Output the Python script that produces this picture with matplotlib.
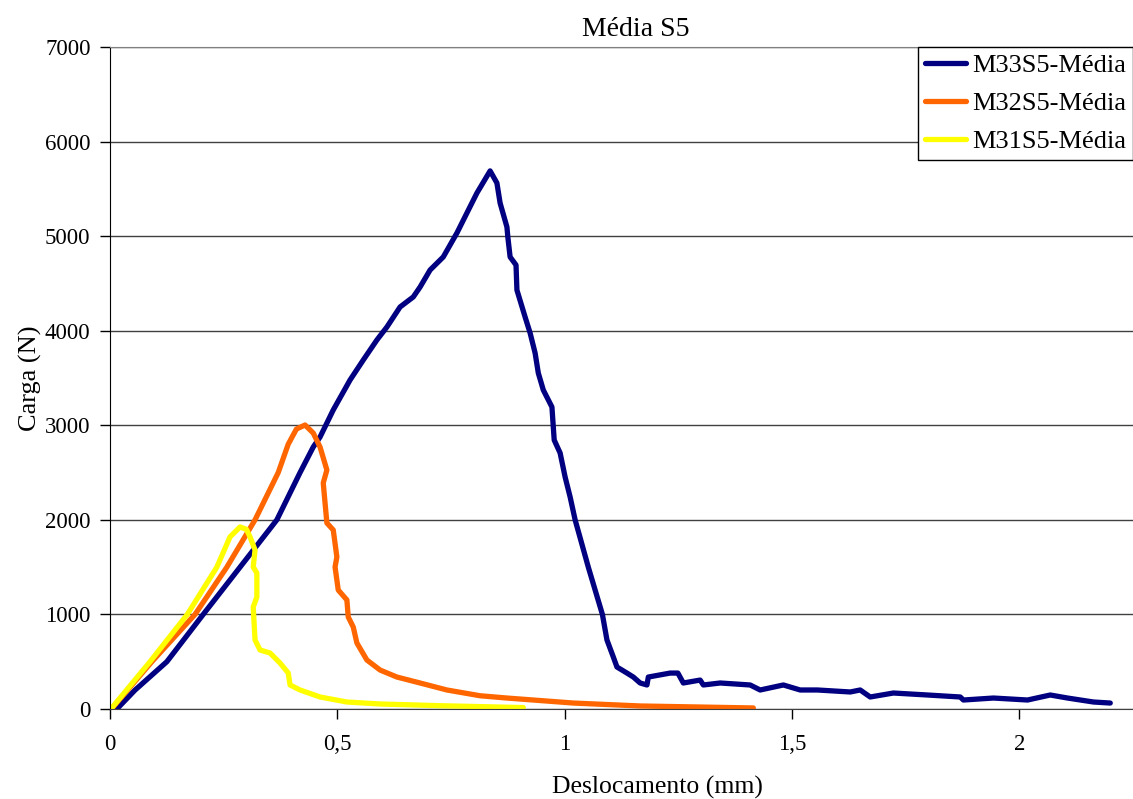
import matplotlib
matplotlib.use('Agg')
import matplotlib.pyplot as plt

# M33S5 - média
m33_x = [0.015, 0.055, 0.125, 0.205, 0.286, 0.367, 0.418, 0.447, 0.462, 0.491, 0.528, 0.557,
         0.587, 0.609, 0.638, 0.667, 0.682, 0.704, 0.733, 0.763, 0.785, 0.807, 0.836, 0.851,
         0.858, 0.873, 0.875, 0.880, 0.893, 0.895, 0.913, 0.924, 0.935, 0.942, 0.953, 0.972,
         0.975, 0.977, 0.990, 1.001, 1.012, 1.023, 1.052, 1.083, 1.093, 1.107, 1.115, 1.137,
         1.151, 1.166, 1.181, 1.184, 1.232, 1.249, 1.261, 1.298, 1.305, 1.342, 1.408, 1.430,
         1.481, 1.518, 1.556, 1.628, 1.650, 1.672, 1.723, 1.798, 1.870, 1.877, 1.943, 2.018,
         2.068, 2.106, 2.163, 2.200]
m33_y = [0, 200, 500, 1000, 1500, 2000, 2500, 2770, 2876, 3162, 3479, 3690,
         3902, 4039, 4251, 4357, 4462, 4642, 4780, 5033, 5245, 5456, 5690, 5562,
         5350, 5097, 4991, 4780, 4695, 4430, 4145, 3976, 3764, 3553, 3373, 3193,
         2982, 2844, 2707, 2453, 2242, 2000, 1500, 1000, 730, 550, 444, 380,
         338, 275, 254, 338, 380, 380, 275, 306, 254, 275, 254, 201,
         254, 201, 201, 180, 201, 127, 169, 148, 127, 95, 116, 95,
         148, 116, 74, 63]

# M32S5 - média
m32_x = [0.003, 0.092, 0.187, 0.257, 0.319, 0.370, 0.392, 0.410, 0.429, 0.447, 0.462, 0.477,
         0.469, 0.477, 0.491, 0.499, 0.495, 0.502, 0.521, 0.524, 0.535, 0.543, 0.565, 0.594,
         0.631, 0.682, 0.741, 0.814, 0.873, 1.019, 1.166, 1.415]
m32_y = [0, 500, 1000, 1500, 2000, 2500, 2800, 2960, 3003, 2918, 2770, 2527,
         2390, 1967, 1893, 1607, 1502, 1258, 1153, 973, 867, 698, 518, 412,
         338, 275, 201, 140, 116, 63, 32, 11]

# M31S5 - média
m31_x = [0.002, 0.088, 0.170, 0.235, 0.264, 0.286, 0.300, 0.308, 0.319, 0.315, 0.323, 0.323,
         0.315, 0.319, 0.330, 0.352, 0.374, 0.392, 0.396, 0.418, 0.462, 0.521, 0.594, 0.726,
         0.909]
m31_y = [0, 500, 1000, 1500, 1820, 1925, 1900, 1820, 1681, 1502, 1438, 1184,
         1079, 730, 624, 592, 486, 381, 254, 201, 127, 74, 53, 35,
         15]

x_ticks = [0, 0.5, 1, 1.5, 2]
x_tick_labels = ['0', '0,5', '1', '1,5', '2']
y_ticks = [0, 1000, 2000, 3000, 4000, 5000, 6000, 7000]

plt.rcParams['font.family'] = ['Liberation Serif', 'DejaVu Serif']

fig = plt.figure(figsize=(11.33, 7.99), dpi=100)
ax = fig.add_axes([110 / 1133, 1 - 709 / 799, 1023 / 1133, 662 / 799])

ax.plot(m33_x, m33_y, color='#000080', lw=3.8, solid_capstyle='round', solid_joinstyle='round', label='M33S5-Média')
ax.plot(m32_x, m32_y, color='#FF6600', lw=3.8, solid_capstyle='round', solid_joinstyle='round', label='M32S5-Média')
ax.plot(m31_x, m31_y, color='#FFFF00', lw=3.8, solid_capstyle='round', solid_joinstyle='round', label='M31S5-Média')

ax.set_xlim(0, 2.25)
ax.set_ylim(0, 7000)
ax.set_xticks(x_ticks)
ax.set_xticklabels(x_tick_labels)
ax.set_yticks(y_ticks)
ax.yaxis.grid(True, color='#404040', lw=1)
ax.set_axisbelow(True)
ax.tick_params(axis='both', direction='out', length=7, width=1, labelsize=16.5, colors='black')
ax.tick_params(axis='x', pad=11)
ax.tick_params(axis='y', pad=7)

ax.spines['right'].set_visible(False)
ax.spines['top'].set_color('#808080')
ax.spines['left'].set_color('black')
ax.spines['bottom'].set_color('#404040')

fig.text(636 / 1133, 1 - 29 / 799, 'Média S5', ha='center', va='center', fontsize=20)
fig.text(657 / 1133, 1 - 787 / 799, 'Deslocamento (mm)', ha='center', va='center', fontsize=18.5)
fig.text(30 / 1133, 1 - 378 / 799, 'Carga (N)', ha='center', va='center', fontsize=19, rotation=90)

leg = fig.legend(loc='upper right', bbox_to_anchor=(1.0, 1 - 47 / 799), fontsize=19,
                 frameon=True, fancybox=False, edgecolor='black', framealpha=1,
                 handlelength=1.55, handletextpad=0.25, labelspacing=0.55, borderpad=0.25,
                 borderaxespad=0)
leg.get_frame().set_linewidth(1)

fig.savefig('out.png', dpi=100)
